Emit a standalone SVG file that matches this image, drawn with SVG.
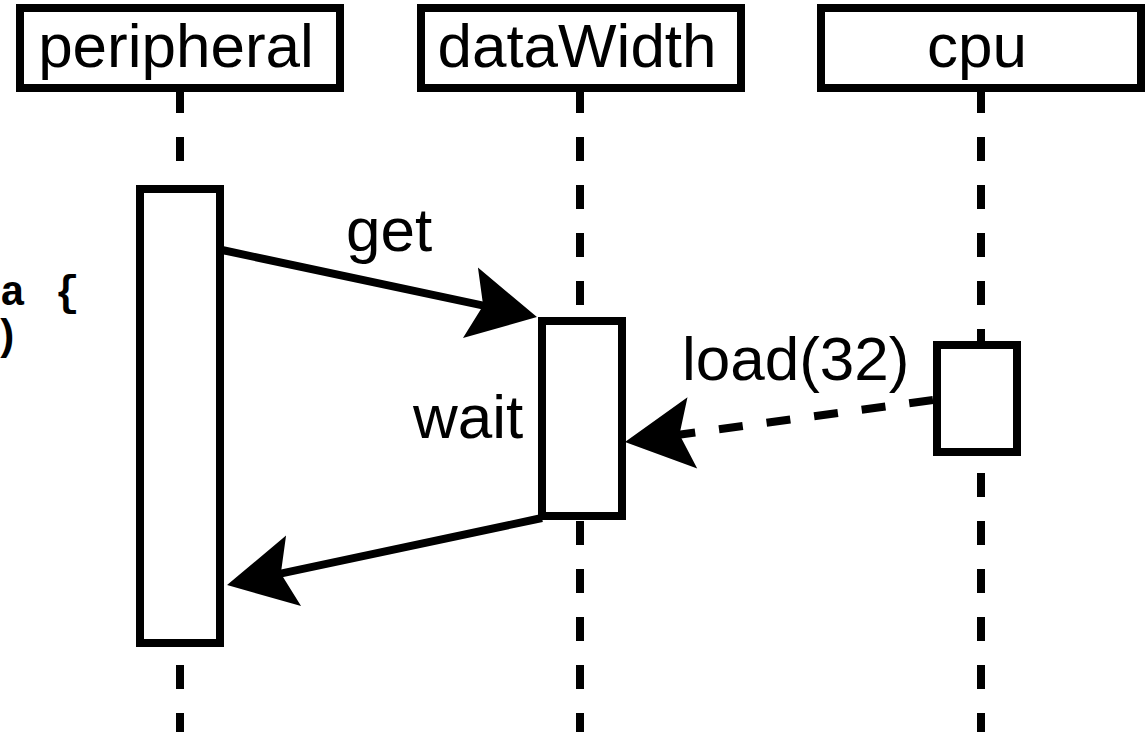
<svg xmlns="http://www.w3.org/2000/svg" width="1145" height="732" viewBox="0 0 1145 732">
  <style>
    .box { fill: #ffffff; stroke: #000000; stroke-width: 8; }
    .life { stroke: #000000; stroke-width: 8; stroke-dasharray: 24 24; fill: none; }
    .msg { stroke: #000000; stroke-width: 8; fill: none; marker-end: url(#head); }
    .dashed { stroke-dasharray: 24 24; }
    .title { font-family: "Liberation Sans", Arial, sans-serif; font-size: 62px; fill: #000000; text-anchor: middle; }
    .label { font-family: "Liberation Sans", Arial, sans-serif; font-size: 62px; fill: #000000; }
    .code { font-family: "Liberation Mono", "Courier New", monospace; font-weight: bold; font-size: 42px; letter-spacing: 2px; fill: #000000; }
  </style>
  <defs>
    <!-- notched arrowhead; the line stops short so the tip lies 20px beyond its end -->
    <marker id="head" markerUnits="userSpaceOnUse" orient="auto" overflow="visible" refX="0" refY="0" markerWidth="1" markerHeight="1">
      <path d="M20,0 L-48,-36 L-35,0 L-48,36 Z" fill="#000000" stroke="none"/>
    </marker>
  </defs>

  <rect x="0" y="0" width="1145" height="732" fill="#ffffff"/>

  <!-- clipped code fragment at the left edge -->
  <g id="code">
    <text class="code" x="0" y="305">a {</text>
    <text class="code" x="-6" y="349">)</text>
  </g>

  <!-- lifelines -->
  <g id="lifelines">
    <line class="life" x1="180" y1="89" x2="180" y2="732"/>
    <line class="life" x1="580" y1="89" x2="580" y2="732"/>
    <line class="life" x1="981" y1="89" x2="981" y2="732"/>
  </g>

  <!-- participants -->
  <g id="peripheral">
    <rect class="box" x="20" y="8" width="320" height="80"/>
    <text class="title" x="176" y="67">peripheral</text>
    <rect class="box" x="140" y="189" width="80" height="454"/>
  </g>
  <g id="dataWidth">
    <rect class="box" x="421" y="8" width="320" height="80"/>
    <text class="title" x="577" y="67">dataWidth</text>
    <rect class="box" x="542" y="321" width="80" height="195"/>
  </g>
  <g id="cpu">
    <rect class="box" x="821" y="8" width="320" height="80"/>
    <text class="title" x="977" y="67">cpu</text>
    <rect class="box" x="937" y="345" width="80" height="107"/>
  </g>

  <!-- messages -->
  <g id="connectors">
    <line class="msg" x1="222" y1="250" x2="517.4" y2="312.8"/>
    <line class="msg dashed" x1="933" y1="400" x2="644.8" y2="439.3"/>
    <line class="msg" x1="542" y1="518" x2="246.6" y2="580.8"/>
  </g>

  <!-- message labels -->
  <g id="labels">
    <text class="label" x="346" y="251">get</text>
    <text class="label" x="682" y="380">load(32)</text>
    <text class="label" x="413" y="438">wait</text>
  </g>
</svg>
